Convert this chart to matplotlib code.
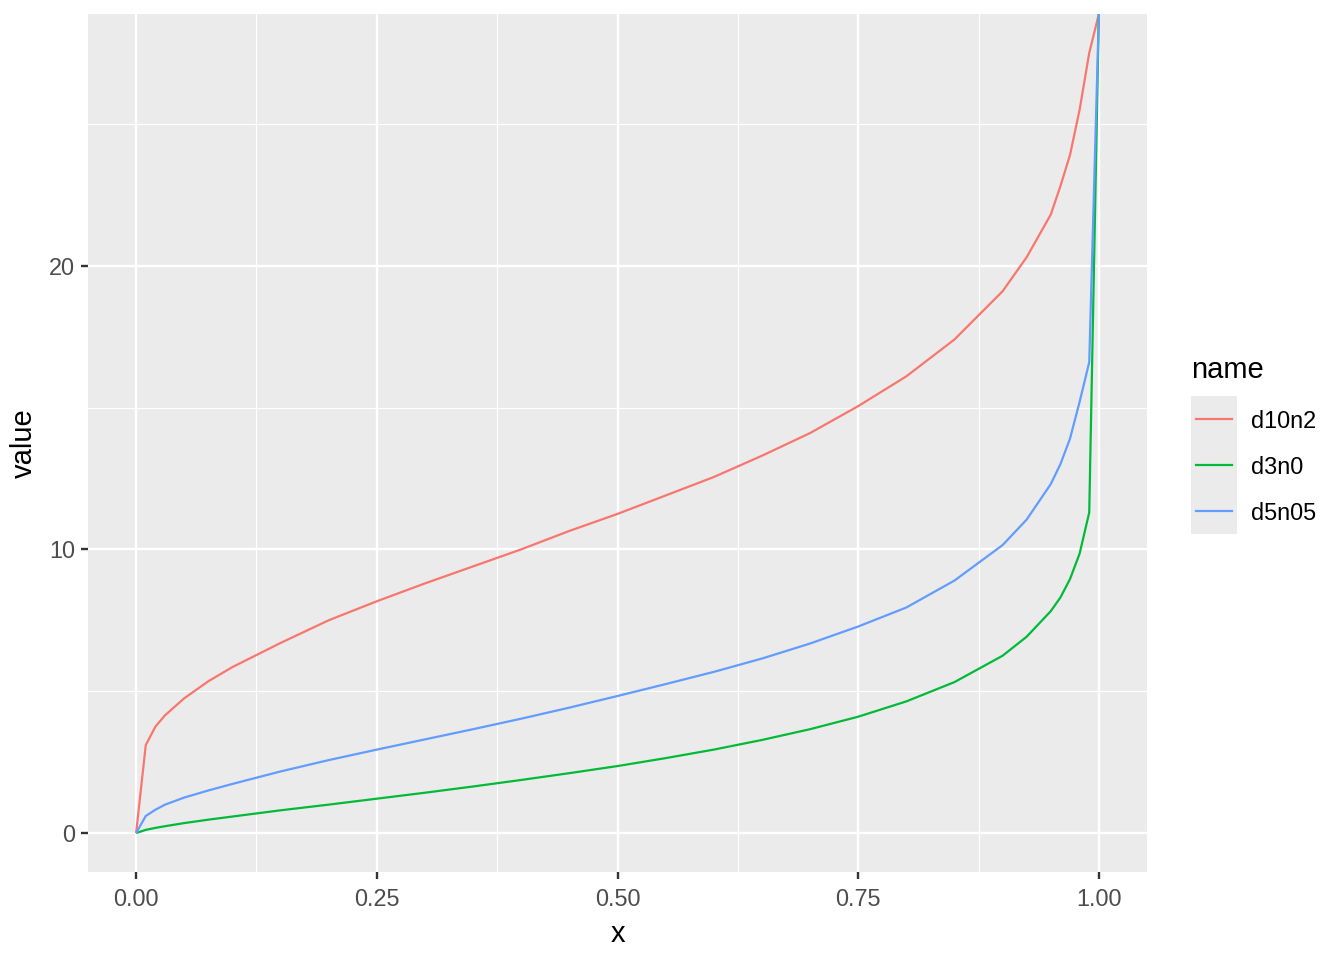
import numpy as np
import matplotlib
matplotlib.use("Agg")
import matplotlib.pyplot as plt

plt.rcParams['font.family'] = ['Liberation Sans', 'DejaVu Sans']

# quantile-like curves (value at x = 1 runs off the top -> inf)
x = [0.0, 0.01, 0.02, 0.03, 0.05, 0.075, 0.1, 0.15, 0.2, 0.25, 0.3, 0.35, 0.4, 0.45,
     0.5, 0.55, 0.6, 0.65, 0.7, 0.75, 0.8, 0.85, 0.9, 0.925, 0.95, 0.96, 0.97, 0.98,
     0.99, 1.0]
d10n2 = [0.0, 3.1, 3.75, 4.15, 4.75, 5.35, 5.85, 6.7, 7.5, 8.17, 8.8, 9.4, 10.0, 10.65,
         11.25, 11.9, 12.55, 13.3, 14.1, 15.05, 16.1, 17.4, 19.1, 20.3, 21.8, 22.8, 23.9,
         25.5, 27.5, np.inf]
d3n0 = [0.0, 0.11, 0.18, 0.24, 0.35, 0.47, 0.58, 0.8, 1.0, 1.21, 1.42, 1.64, 1.87, 2.11,
        2.36, 2.64, 2.94, 3.28, 3.66, 4.1, 4.64, 5.32, 6.25, 6.92, 7.82, 8.3, 8.95, 9.85,
        11.3, np.inf]
d5n05 = [0.0, 0.6, 0.82, 1.0, 1.25, 1.5, 1.73, 2.17, 2.57, 2.94, 3.3, 3.66, 4.03, 4.42,
         4.83, 5.25, 5.68, 6.15, 6.68, 7.28, 7.95, 8.9, 10.15, 11.05, 12.3, 13.0, 13.9,
         15.2, 16.6, np.inf]

names = ['d10n2', 'd3n0', 'd5n05']
series = [d10n2, d3n0, d5n05]
colors = ['#F8766D', '#00BA38', '#619CFF']

fig = plt.figure(figsize=(13.44, 9.6), dpi=100)
W, H = 1344, 960
ax = fig.add_axes([88 / W, 1 - 872 / H, (1147 - 88) / W, (872 - 14) / H])
ax.set_facecolor('#EBEBEB')

finite = np.concatenate([np.array(s)[np.isfinite(s)] for s in series])
lo, hi = finite.min(), finite.max()
span = hi - lo
ymin, ymax = lo - 0.05 * span, hi + 0.05 * span

for name, s, c in zip(names, series, colors):
    y = np.array(s, dtype=float)
    y[np.isinf(y)] = ymax  # Inf drawn at the panel edge, like ggplot
    ax.plot(x, y, color=c, lw=1.6, solid_capstyle='butt', label=name)

ax.set_xlim(-0.05, 1.05)
ax.set_ylim(ymin, ymax)
ax.set_xticks([0, 0.25, 0.5, 0.75, 1.0])
ax.set_xticklabels(['0.00', '0.25', '0.50', '0.75', '1.00'])
ax.set_xticks([0.125, 0.375, 0.625, 0.875], minor=True)
ax.set_yticks([0, 10, 20])
ax.set_yticks([5, 15, 25], minor=True)

ax.grid(True, which='major', color='white', lw=1.7)
ax.grid(True, which='minor', color='white', lw=0.85)
ax.set_axisbelow(True)
for sp in ax.spines.values():
    sp.set_visible(False)
ax.tick_params(which='major', length=5.3, width=1.7, color='#333333',
               labelcolor='#4D4D4D', labelsize=16.9, pad=4.0)
ax.tick_params(axis='x', which='major', pad=6.0)
ax.tick_params(which='minor', length=0)

ax.set_xlabel('x', fontsize=21, labelpad=7)
ax.set_ylabel('value', fontsize=21, labelpad=8)

# legend, drawn ggplot-style: one grey key column
fig.text(1191 / W, 1 - 370 / H, 'name', fontsize=21, ha='left', va='center')
kax = fig.add_axes([1191 / W, 1 - 534 / H, 46 / W, 138 / H])
kax.set_facecolor('#EBEBEB')
kax.set_xlim(0, 1)
kax.set_ylim(0, len(names))
kax.set_xticks([])
kax.set_yticks([])
for sp in kax.spines.values():
    sp.set_visible(False)
for i, (name, c) in enumerate(zip(names, colors)):
    yc = len(names) - i - 0.5
    kax.plot([0.1, 0.9], [yc, yc], color=c, lw=1.6)
    fig.text(1251 / W, 1 - (421 + 46 * i) / H, name, fontsize=16.9,
             ha='left', va='center')

fig.savefig('out.png', dpi=100)
